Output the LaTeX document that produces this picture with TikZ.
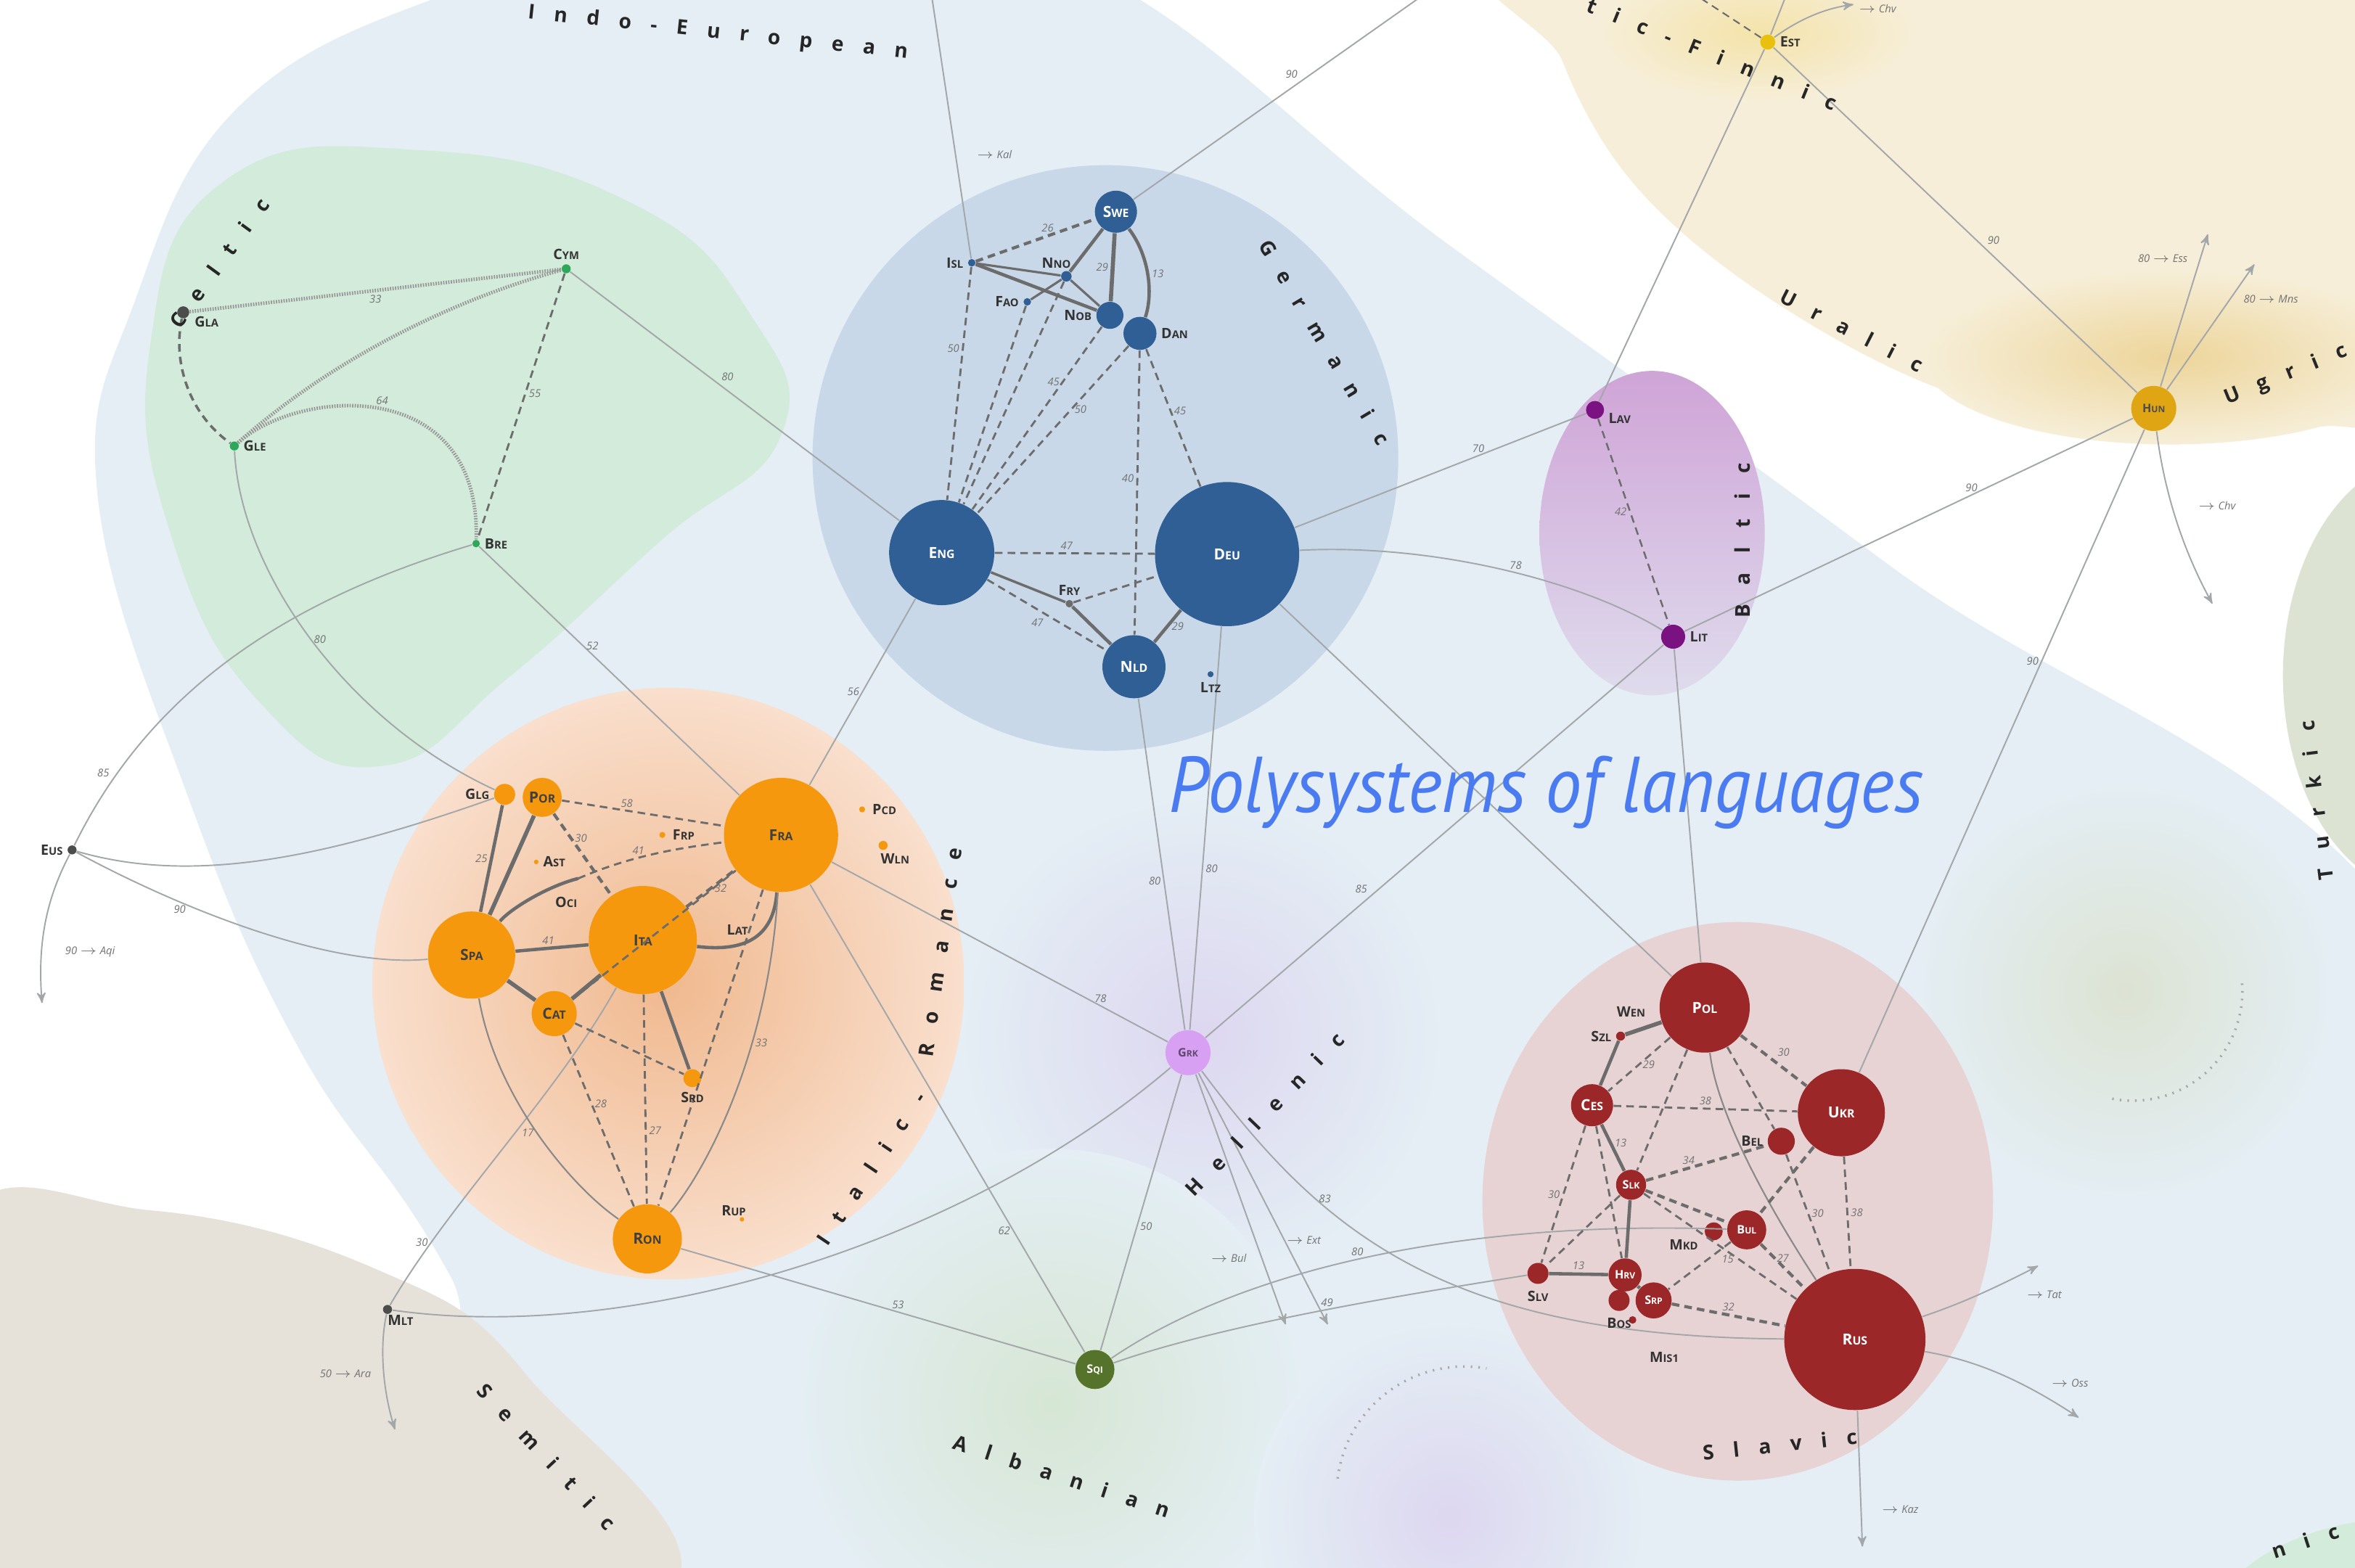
\documentclass[tikz,border=0pt]{standalone}
\usepackage{fontspec}
\setmainfont{Open Sans}
\newfontfamily\lngfam{Open Sans}
\newfontfamily\famfam[LetterSpace=95]{Open Sans}
\newfontfamily\titlefam{PT Sans}
\usetikzlibrary{arrows,positioning,shapes.geometric}

\definecolor{iebg}{HTML}{E4EEF4}
\definecolor{celbg}{HTML}{D3EBDA}
\definecolor{celnode}{HTML}{2DA85A}
\definecolor{gerbg}{HTML}{C8D8E8}
\definecolor{gernode}{HTML}{2F5F95}
\definecolor{itanode}{HTML}{F5980E}
\definecolor{itain}{HTML}{F0B98F}
\definecolor{itaout}{HTML}{F9DFCD}
\definecolor{slabg}{HTML}{E7D2D4}
\definecolor{slanode}{HTML}{9C2728}
\definecolor{balbg}{HTML}{CFA4D7}
\definecolor{balnode}{HTML}{7B1281}
\definecolor{uralbg}{HTML}{F6EED8}
\definecolor{ugrbg}{HTML}{EDD59A}
\definecolor{finbg}{HTML}{F4E3A9}
\definecolor{hunnode}{HTML}{E0A512}
\definecolor{grknode}{HTML}{D8A0F2}
\definecolor{helbg}{HTML}{DDD7F0}
\definecolor{sqinode}{HTML}{56732B}
\definecolor{albbg}{HTML}{D6E6D4}
\definecolor{sembg}{HTML}{E6E2DA}
\definecolor{turbg}{HTML}{DCE3D3}
\definecolor{titleblue}{HTML}{4A7BF0}
\definecolor{edgegray}{HTML}{A3A7A9}
\definecolor{ingray}{HTML}{6C6C6C}

\newcommand{\nodefont}{\lngfam\bfseries\fontsize{6}{7}\selectfont}
\newcommand{\smallfont}{\lngfam\bfseries\fontsize{4.6}{5}\selectfont}
\newcommand{\labfont}{\lngfam\bfseries\fontsize{5.6}{6}\selectfont}
\newcommand{\numfont}{\lngfam\itshape\fontsize{4.2}{5}\selectfont}
\newcommand{\famfont}{\famfam\bfseries\fontsize{8}{9}\selectfont}
\newcommand{\lab}[2]{#1\scalebox{0.75}{#2}}

\tikzset
    {
        lang/.style = {circle, inner sep=0pt, text=white, font=\nodefont, minimum size=#1*0.20695mm},
        germ/.style = {lang=#1, fill=gernode},
        ital/.style = {lang=#1, fill=itanode, text=black!75},
        slav/.style = {lang=#1, fill=slanode},
        spot/.style = {circle, inner sep=0pt, minimum size=#1*0.20695mm},
        lbl/.style = {font=\labfont, text=black!80, inner sep=0.5pt},
        num/.style = {font=\numfont, text=black!55, inner sep=1pt},
        fam/.style = {font=\famfont, text=black!85, inner sep=0pt},
        xlink/.style = {draw=edgegray, line width=0.55pt},
        tight/.style = {draw=ingray, line width=1.3pt},
        loose/.style = {draw=ingray, line width=0.8pt, dash pattern=on 3pt off 2pt},
        celt/.style = {draw=ingray!70, line width=1.4pt, dash pattern=on 0.5pt off 0.5pt},
        title/.style = {font=\titlefam\itshape\fontsize{31}{34}\selectfont, text=titleblue, inner sep=0pt}
    }

\begin{document}
\begin{tikzpicture}[>=stealth', x=0.20695mm, y=-0.20695mm]
\useasboundingbox (0,0) rectangle (1568,1044);
\clip (0,0) rectangle (1568,1044);
\fill[white] (0,0) rectangle (1568,1044);

% families in the background
\fill[iebg] plot[smooth cycle, tension=0.7] coordinates {(65,330) (90,200) (160,70) (300,-5) (450,-40) (700,-30) (966,164) (1256,375) (1620,650) (1640,1100) (420,1100) (300,850) (200,700) (125,530)};
\fill[sembg] plot[smooth cycle, tension=0.7] coordinates {(-30,820) (100,806) (250,845) (350,915) (430,1070) (-30,1080)};
\fill[uralbg] plot[smooth cycle, tension=0.6] coordinates {(1025,-40) (1040,40) (1090,125) (1180,200) (1300,262) (1440,292) (1540,285) (1610,250) (1620,-40)};
\shade[inner color=ugrbg, outer color=uralbg] (1445,238) ellipse (165 and 58);
\shade[inner color=finbg, outer color=uralbg] (1170,22) ellipse (105 and 45);
\fill[celbg] plot[smooth cycle, tension=0.8] coordinates {(100,230) (150,120) (280,100) (420,135) (500,210) (520,290) (440,360) (340,450) (255,510) (175,470) (115,360)};
\fill[gerbg] (736,305) circle (195);
\shade[top color=balbg, bottom color=balbg!25!iebg] (1100,355) ellipse (75 and 108);
\shade[inner color=helbg, outer color=iebg] (800,690) circle (160);
\shade[inner color=albbg, outer color=iebg] (700,935) circle (170);
\shade[inner color=helbg, outer color=iebg] (965,1010) circle (130);
\shade[inner color=turbg, outer color=iebg] (1415,660) circle (140);
\fill[turbg] (1615,450) ellipse (95 and 145);
\fill[celbg] (1610,1090) ellipse (140 and 80);
\shade[inner color=itain, outer color=itaout] (445,655) circle (197);
\fill[slabg] (1157,800) ellipse (170 and 186);
\draw[ingray!60, line width=1pt, dash pattern=on 0.6pt off 2.4pt] (1420,660) ++(-4:73) arc[start angle=-4, end angle=101, radius=73];
\draw[ingray!60, line width=1pt, dash pattern=on 0.6pt off 2.4pt] (975,995) ++(187:85) arc[start angle=187, end angle=280, radius=85];

% Germanic
\node[germ=28] (swe) at (743,141) {\lab{S}{WE}};
\node[spot=5, fill=gernode] (isl) at (647,175) {};
\node[spot=7, fill=gernode] (nno) at (710,184) {};
\node[spot=5, fill=gernode] (fao) at (684,201) {};
\node[germ=18] (nob) at (739,210) {};
\node[germ=22] (dan) at (759,222) {};
\node[germ=70] (eng) at (627,368) {\lab{E}{NG}};
\node[germ=96] (deu) at (817,369) {\lab{D}{EU}};
\node[germ=42] (nld) at (755,444) {\lab{N}{LD}};
\node[spot=5, fill=ingray] (fry) at (712,402) {};
\node[spot=4, fill=gernode] (ltz) at (806,449) {};
% Celtic
\node[spot=6, fill=celnode] (cym) at (377,179) {};
\node[spot=8, fill=black!70] (gla) at (122,208) {};
\node[spot=6, fill=celnode] (gle) at (156,297) {};
\node[spot=5, fill=celnode] (bre) at (317,362) {};
% Italic
\node[ital=14] (glg) at (336,529) {};
\node[ital=26] (por) at (361,531) {\lab{P}{OR}};
\node[ital=76] (fra) at (520,556) {\lab{F}{RA}};
\node[spot=4, fill=itanode] (frp) at (441,556) {};
\node[spot=4, fill=itanode] (pcd) at (574,539) {};
\node[spot=6, fill=itanode] (wln) at (588,563) {};
\node[spot=3, fill=itanode] (ast) at (357,574) {};
\coordinate (oci) at (385,585);
\node[ital=58] (spa) at (314,636) {\lab{S}{PA}};
\node[ital=72] (ita) at (428,626) {\lab{I}{TA}};
\node[ital=30] (cat) at (369,675) {\lab{C}{AT}};
\node[ital=12] (srd) at (461,718) {};
\node[ital=46] (ron) at (431,825) {\lab{R}{ON}};
\node[spot=3, fill=itanode] (rup) at (494,812) {};
% Slavic
\node[slav=60] (pol) at (1135,671) {\lab{P}{OL}};
\node[spot=6, fill=slanode] (szl) at (1079,690) {};
\node[slav=28] (ces) at (1060,736) {\lab{C}{ES}};
\node[slav=58] (ukr) at (1226,741) {\lab{U}{KR}};
\node[slav=18] (bel) at (1186,760) {};
\node[slav=20, font=\smallfont] (slk) at (1086,789) {\lab{S}{LK}};
\node[slav=26, font=\smallfont] (bul) at (1163,819) {\lab{B}{UL}};
\node[slav=12] (mkd) at (1141,820) {};
\node[slav=14] (slv) at (1024,848) {};
\node[slav=22, font=\smallfont] (hrv) at (1082,849) {\lab{H}{RV}};
\node[slav=24, font=\smallfont] (srp) at (1101,866) {\lab{S}{RP}};
\node[slav=14] (bos) at (1078,866) {};
\node[spot=5, fill=slanode] (mis) at (1087,879) {};
\node[slav=94] (rus) at (1235,892) {\lab{R}{US}};
% the others
\node[spot=12, fill=balnode] (lav) at (1062,273) {};
\node[spot=16, fill=balnode] (lit) at (1114,424) {};
\node[spot=10, fill=hunnode!70!yellow] (est) at (1177,28) {};
\node[lang=30, fill=hunnode, text=black!70, font=\smallfont] (hun) at (1434,272) {\lab{H}{UN}};
\node[lang=30, fill=grknode, text=grknode!45!black, font=\smallfont] (grk) at (791,701) {\lab{G}{RK}};
\node[lang=26, fill=sqinode, font=\smallfont] (sqi) at (729,912) {\lab{S}{QI}};
\node[spot=6, fill=black!70] (eus) at (48,566) {};
\node[spot=6, fill=black!70] (mlt) at (258,872) {};

% free ends
\coordinate (eusout) at (28,668);
\coordinate (mltout) at (263,952);
\coordinate (islout) at (620,-5);
\coordinate (sweout) at (950,-5);
\coordinate (grkouta) at (856,882);
\coordinate (grkoutb) at (884,882);
\coordinate (hunouta) at (1470,156);
\coordinate (hunoutb) at (1501,176);
\coordinate (hunoutc) at (1473,402);
\coordinate (estup) at (1190,-5);
\coordinate (estdash) at (1131,-2);
\coordinate (estout) at (1234,3);
\coordinate (rusouta) at (1357,843);
\coordinate (rusoutb) at (1384,944);
\coordinate (rusoutc) at (1240,1030);

% links between families
\draw[xlink] (cym) -- node[num, pos=.45, above right]{80} (eng);
\draw[xlink] (bre) -- node[num, pos=.4, right]{52} (fra);
\draw[xlink] (bre) .. controls (190,400) and (100,460) .. node[num, pos=.85, above left]{85} (eus);
\draw[xlink, ->] (eus) .. controls (30,600) and (25,630) .. (eusout);
\draw[xlink] (gle) .. controls (160,380) and (230,480) .. node[num, pos=.5, right]{80} (glg);
\draw[xlink] (eus) .. controls (130,590) and (220,570) .. (glg);
\draw[xlink] (eus) .. controls (120,605) and (220,645) .. node[num, pos=.3, below]{90} (spa);
\draw[xlink] (mlt) .. controls (300,800) and (370,730) .. node[num, pos=.2, left]{30} (ita);
\draw[xlink] (mlt) .. controls (420,895) and (640,830) .. (grk);
\draw[xlink, ->] (mlt) .. controls (252,900) and (256,930) .. (mltout);
\draw[xlink] (ron) -- node[num, pos=.55, above]{53} (sqi);
\draw[xlink] (fra) -- node[num, pos=.74, left]{62} (sqi);
\draw[xlink] (fra) -- node[num, pos=.8, above]{78} (grk);
\draw[xlink] (fra) -- node[num, pos=.5, left]{56} (eng);
\draw[xlink] (grk) -- node[num, pos=.55, right]{50} (sqi);
\draw[xlink] (deu) -- node[num, pos=.6, right]{80} (grk);
\draw[xlink] (nld) -- node[num, pos=.55, left]{80} (grk);
\draw[xlink] (grk) -- node[num, pos=.36, above left]{85} (lit);
\draw[xlink, ->] (grk) -- (grkouta);
\draw[xlink, ->] (grk) -- (grkoutb);
\draw[xlink] (grk) .. controls (880,820) and (960,890) .. node[num, pos=.3, right]{83} (rus);
\draw[xlink] (sqi) .. controls (820,880) and (950,860) .. node[num, pos=.5, above]{49} (slv);
\draw[xlink] (sqi) .. controls (820,850) and (960,812) .. node[num, pos=.5, above]{80} (bul);
\draw[xlink] (deu) -- (pol);
\draw[xlink] (deu) .. controls (950,362) and (1050,385) .. node[num, pos=.55, above]{78} (lit);
\draw[xlink] (deu) -- node[num, pos=.63, above]{70} (lav);
\draw[xlink] (lav) -- (est);
\draw[xlink] (est) -- (estup);
\draw[loose, line width=0.6pt] (est) -- (estdash);
\draw[xlink, ->] (est) .. controls (1195,15) and (1212,6) .. (estout);
\draw[xlink] (lit) -- node[num, pos=.64, above]{90} (hun);
\draw[xlink] (lit) -- (pol);
\draw[xlink] (hun) -- node[num, pos=.36, left]{90} (ukr);
\draw[xlink] (est) -- node[num, pos=.58, above right]{90} (hun);
\draw[xlink, ->] (hun) -- (hunouta);
\draw[xlink, ->] (hun) -- (hunoutb);
\draw[xlink, ->] (hun) .. controls (1440,320) and (1450,360) .. (hunoutc);
\draw[xlink] (isl) -- (islout);
\draw[xlink] (swe) -- node[num, pos=.57, above left]{90} (sweout);
\draw[xlink, ->] (rus) .. controls (1300,870) and (1320,862) .. (rusouta);
\draw[xlink, ->] (rus) .. controls (1310,905) and (1340,915) .. (rusoutb);
\draw[xlink, ->] (rus) -- (rusoutc);

% Germanic links
\draw[loose, line width=1.2pt] (isl) -- node[num, pos=.6, above]{26} (swe);
\draw[tight, line width=0.9pt] (isl) -- (nno);
\draw[tight] (isl) -- (nob);
\draw[tight, line width=0.9pt] (fao) -- (nno);
\draw[tight, line width=0.9pt] (nno) -- (nob);
\draw[tight] (nno) -- (swe);
\draw[tight, line width=1.6pt] (swe) -- node[num, pos=.5, left]{29} (nob);
\draw[tight] (swe) .. controls (765,170) and (768,195) .. node[num, pos=.5, right]{13} (dan);
\draw[loose] (isl) -- node[num, pos=.35, left]{50} (eng);
\draw[loose] (fao) -- (eng);
\draw[loose] (nno) -- (eng);
\draw[loose] (nob) -- node[num, pos=.3, left]{45} (eng);
\draw[loose] (dan) -- node[num, pos=.38, right]{50} (eng);
\draw[loose] (dan) -- node[num, pos=.45, left]{40} (nld);
\draw[loose] (dan) -- node[num, pos=.45, right]{45} (deu);
\draw[loose] (eng) -- node[num, pos=.45, above]{47} (deu);
\draw[tight, line width=1pt] (eng) -- (fry);
\draw[loose] (fry) -- (deu);
\draw[tight] (fry) -- (nld);
\draw[loose] (eng) -- node[num, pos=.5, below left]{47} (nld);
\draw[tight] (nld) -- node[num, pos=.5, right]{29} (deu);

% Italic links
\draw[tight] (glg) -- node[num, pos=.5, left]{25} (spa);
\draw[tight, line width=1.6pt] (por) -- (spa);
\draw[loose, line width=1.2pt] (por) -- node[num, pos=.3, right]{30} (ita);
\draw[loose] (por) -- node[num, pos=.4, above]{58} (fra);
\draw[tight] (spa) .. controls (340,605) and (365,590) .. (oci);
\draw[loose] (oci) .. controls (420,570) and (450,565) .. node[num, pos=.4, above]{41} (fra);
\draw[tight] (spa) -- node[num, pos=.45, above]{41} (ita);
\draw[tight, line width=1.6pt] (spa) -- (cat);
\draw[tight, line width=1.6pt] (cat) -- (ita);
\draw[loose, line width=1.2pt] (ita) -- node[num, pos=.5, right]{32} (fra);
\draw[tight] (ita) .. controls (495,634) and (515,625) .. (fra);
\draw[loose] (cat) -- (fra);
\draw[loose] (cat) -- (srd);
\draw[tight] (ita) -- (srd);
\draw[loose] (cat) -- node[num, pos=.4, right]{28} (ron);
\draw[loose] (ita) -- node[num, pos=.65, right]{27} (ron);
\draw[loose] (fra) -- (ron);
\draw[draw=ingray!80, line width=0.6pt] (fra) .. controls (512,700) and (470,780) .. node[num, pos=.35, right]{33} (ron);
\draw[draw=ingray!80, line width=0.6pt] (spa) .. controls (330,730) and (380,790) .. node[num, pos=.5, left]{17} (ron);

% Slavic links
\draw[tight, line width=1.6pt] (pol) -- (szl);
\draw[tight] (szl) -- (ces);
\draw[loose] (pol) -- node[num, pos=.5, right]{29} (ces);
\draw[loose] (pol) -- (slk);
\draw[loose, line width=1.2pt] (pol) -- node[num, pos=.5, above right]{30} (ukr);
\draw[loose] (pol) -- (bel);
\draw[draw=ingray!80, line width=0.6pt] (pol) .. controls (1143,740) and (1175,800) .. (rus);
\draw[loose] (ces) -- node[num, pos=.5, above]{38} (ukr);
\draw[tight] (ces) -- node[num, pos=.4, right]{13} (slk);
\draw[loose] (ces) -- node[num, pos=.5, left]{30} (slv);
\draw[loose] (ces) -- (hrv);
\draw[loose, line width=1.2pt] (slk) -- node[num, pos=.35, above]{34} (bel);
\draw[loose, line width=1.2pt] (slk) -- (bul);
\draw[tight] (slk) -- (hrv);
\draw[loose] (slk) -- (slv);
\draw[loose] (slk) -- node[num, pos=.55, below]{15} (rus);
\draw[loose, line width=1.2pt] (ukr) -- (bul);
\draw[loose] (ukr) -- node[num, pos=.5, right]{38} (rus);
\draw[loose] (bel) -- node[num, pos=.5, right]{30} (rus);
\draw[loose, line width=1.2pt] (bul) -- node[num, pos=.5, above]{27} (rus);
\draw[loose] (bul) -- (srp);
\draw[tight] (slv) -- node[num, pos=.5, above]{13} (hrv);
\draw[tight] (hrv) -- (srp);
\draw[loose, line width=1.2pt] (srp) -- node[num, pos=.5, above]{32} (rus);

% Baltic and Celtic links
\draw[loose, line width=0.7pt] (lav) -- node[num, pos=.45, left]{42} (lit);
\draw[celt] (gla) -- node[num, pos=.5, below]{33} (cym);
\draw[celt] (gle) .. controls (220,240) and (300,200) .. (cym);
\draw[celt] (gle) .. controls (200,258) and (320,250) .. node[num, pos=.5, above]{64} (bre);
\draw[loose] (cym) -- node[num, pos=.45, right]{55} (bre);
\draw[loose, line width=1pt] (gla) .. controls (115,240) and (125,275) .. (gle);

% names beside the small nodes
\node[lbl, left=1pt of isl] {\lab{I}{SL}};
\node[lbl, above left=1pt and -4pt of nno] {\lab{N}{NO}};
\node[lbl, left=1pt of fao] {\lab{F}{AO}};
\node[lbl, left=1pt of nob] {\lab{N}{OB}};
\node[lbl, right=1pt of dan] {\lab{D}{AN}};
\node[lbl, above=1pt of fry] {\lab{F}{RY}};
\node[lbl, below=1pt of ltz] {\lab{L}{TZ}};
\node[lbl, above=1pt of cym] {\lab{C}{YM}};
\node[lbl, below right=-1pt and 2pt of gla] {\lab{G}{LA}};
\node[lbl, right=1pt of gle] {\lab{G}{LE}};
\node[lbl, right=1pt of bre] {\lab{B}{RE}};
\node[lbl, left=1pt of glg] {\lab{G}{LG}};
\node[lbl, right=2pt of frp] {\lab{F}{RP}};
\node[lbl, right=2pt of pcd] {\lab{P}{CD}};
\node[lbl, below right=1pt and -3pt of wln] {\lab{W}{LN}};
\node[lbl, right=1pt of ast] {\lab{A}{ST}};
\node[lbl] at (377,601) {\lab{O}{CI}};
\node[lbl] at (491,619) {\lab{L}{AT}};
\node[lbl, below=1pt of srd] {\lab{S}{RD}};
\node[lbl, above left=0pt and -3pt of rup] {\lab{R}{UP}};
\node[lbl] at (1086,674) {\lab{W}{EN}};
\node[lbl, left=1pt of szl] {\lab{S}{ZL}};
\node[lbl, left=1pt of bel] {\lab{B}{EL}};
\node[lbl] at (1121,829) {\lab{M}{KD}};
\node[lbl, below=2pt of slv] {\lab{S}{LV}};
\node[lbl, below=2pt of bos] {\lab{B}{OS}};
\node[lbl] at (1108,904) {\lab{M}{IS1}};
\node[lbl, below right=-2pt and 2pt of lav] {\lab{L}{AV}};
\node[lbl, right=1pt of lit] {\lab{L}{IT}};
\node[lbl, right=1pt of est] {\lab{E}{ST}};
\node[lbl, left=1pt of eus] {\lab{E}{US}};
\node[lbl, below right=0pt and -2pt of mlt] {\lab{M}{LT}};

% arrows leaving the map
\node[num] at (60,634) {90 \(\to\) Aqi};
\node[num] at (230,915) {50 \(\to\) Ara};
\node[num] at (662,103) {\(\to\) Kal};
\node[num] at (818,838) {\(\to\) Bul};
\node[num] at (868,826) {\(\to\) Ext};
\node[num] at (1440,172) {80 \(\to\) Ess};
\node[num] at (1512,199) {80 \(\to\) Mns};
\node[num] at (1476,337) {\(\to\) Chv};
\node[num] at (1250,6) {\(\to\) Chv};
\node[num] at (1361,862) {\(\to\) Tat};
\node[num] at (1378,921) {\(\to\) Oss};
\node[num] at (1265,1005) {\(\to\) Kaz};

% names of the families
\node[fam, rotate=-6] at (478,22) {Indo-European};
\node[fam, rotate=54] at (146,175) {Celtic};
\node[fam, rotate=-59] at (882,228) {Germanic};
\node[fam, rotate=-27] at (1233,220) {Uralic};
\node[fam, rotate=22] at (1522,250) {Ugric};
\node[fam, rotate=-22] at (1140,36) {tic-Finnic};
\node[fam, rotate=90] at (1160,360) {Baltic};
\node[fam, rotate=56] at (580,778) {Italic -};
\node[fam, rotate=82] at (626,634) {Romance};
\node[fam, rotate=46] at (842,742) {Hellenic};
\node[fam, rotate=-18] at (707,983) {Albanian};
\node[fam, rotate=6] at (1185,962) {Slavic};
\node[fam, rotate=-47] at (364,970) {Semitic};
\node[fam, rotate=97] at (1542,533) {Turkic};
\node[fam, rotate=18] at (1535,1026) {nic};

% title
\node[title, anchor=base west] (ttl) at (778,541) {\scalebox{0.92}[1]{Polysystems of languages}};
\end{tikzpicture}
\end{document}
